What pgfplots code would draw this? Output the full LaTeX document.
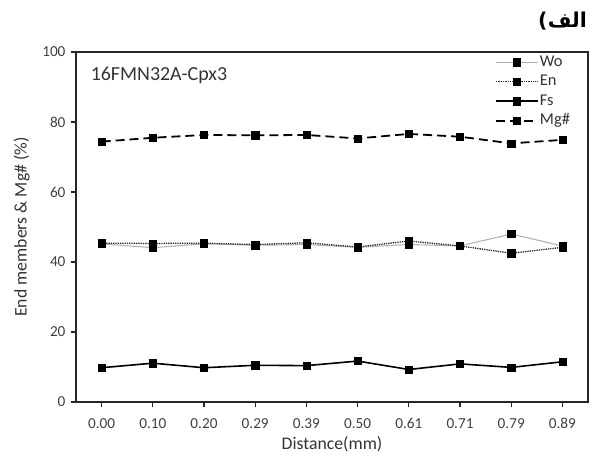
\documentclass[border=0pt]{standalone}
\usepackage{fontspec}
\setmainfont{Carlito}
\newfontfamily\arabicfont[Script=Arabic]{DejaVu Sans Bold}
\newfontfamily\dejabold{DejaVu Sans Bold}
\TeXXeTstate=1
\usepackage{pgfplots}
\pgfplotsset{compat=1.18}
\begin{document}
\begin{tikzpicture}[x=1bp,y=1bp]
\begin{axis}[
  scale only axis,
  width=512bp, height=350bp,
  xmin=-0.5, xmax=9.5,
  ymin=0, ymax=100,
  xtick={0,1,2,3,4,5,6,7,8,9},
  xticklabels={0.00,0.10,0.20,0.29,0.39,0.50,0.61,0.71,0.79,0.89},
  ytick={0,20,40,60,80,100},
  tick align=outside,
  xtick pos=bottom, ytick pos=left,
  major tick length=5bp,
  axis line style={line width=1.4bp, black!85},
  tick style={line width=1.2bp, black!85},
  /pgf/number format/assume math mode=true,
  ticklabel style={font=\fontsize{15.3}{17}\selectfont, text=black!75},
  xticklabel style={yshift=-8bp},
  yticklabel style={xshift=-2bp},
  xlabel={Distance(mm)},
  ylabel={End members \& Mg\# (\%)},
  label style={font=\fontsize{17.8}{20}\selectfont, text=black!80},
  xlabel style={at={(rel axis cs:0.5,-0.122)}, anchor=center},
  ylabel style={at={(rel axis cs:-0.106,0.5)}, anchor=center},
  legend style={draw=none, fill=none, at={(rel axis cs:0.969,0.997)}, anchor=north east,
    font=\fontsize{16.5}{19}\selectfont, text=black!80, row sep=3.5bp, inner sep=1bp,
    nodes={text height=11bp, text depth=3bp, inner sep=1bp}},
  legend cell align=left,
  legend image code/.code={\draw[mark repeat=2,mark phase=2] plot coordinates {(0bp,0bp)(21bp,0bp)(42bp,0bp)};},
  every axis plot/.append style={mark=square*, mark options={solid, fill=black, draw=black, line width=0.5bp}, mark size=3.6bp},
]
\addplot[gray!60, line width=1.1bp] coordinates {
(0,45.2) (1,44.1) (2,45.2) (3,44.8) (4,45.0) (5,44.2) (6,45.0) (7,44.6) (8,48.0) (9,44.6)};
\addlegendentry{Wo}
\addplot[black!85, line width=1.3bp, densely dotted] coordinates {
(0,45.4) (1,45.3) (2,45.4) (3,45.0) (4,45.5) (5,44.3) (6,46.0) (7,44.6) (8,42.5) (9,44.2)};
\addlegendentry{En}
\addplot[black, line width=1.6bp] coordinates {
(0,9.8) (1,11.1) (2,9.8) (3,10.5) (4,10.4) (5,11.7) (6,9.3) (7,10.9) (8,9.9) (9,11.5)};
\addlegendentry{Fs}
\addplot[black, line width=1.8bp, dash pattern=on 9bp off 5bp] coordinates {
(0,74.4) (1,75.5) (2,76.3) (3,76.2) (4,76.3) (5,75.3) (6,76.6) (7,75.8) (8,73.9) (9,74.9)};
\addlegendentry{Mg\#}
\node[anchor=west, font=\fontsize{20}{22}\selectfont, text=black!80] at (rel axis cs:0.022,0.934) {16FMN32A-Cpx3};
\coordinate (ttl) at (rel axis cs:0.998,1.09);
\coordinate (bl) at (rel axis cs:-0.1484,-0.1829);
\coordinate (tr) at (rel axis cs:1.0195,1.1486);
\end{axis}
\node[anchor=east, inner sep=0pt, font=\fontsize{20.5}{22}\selectfont] (ar) at (ttl) {\arabicfont\beginR الف\endR};
\node[anchor=base east, inner sep=0pt, font=\fontsize{20.5}{22}\selectfont] at (ar.base west) {\dejabold(};
\pgfresetboundingbox
\useasboundingbox (bl) rectangle (tr);
\end{tikzpicture}
\end{document}
